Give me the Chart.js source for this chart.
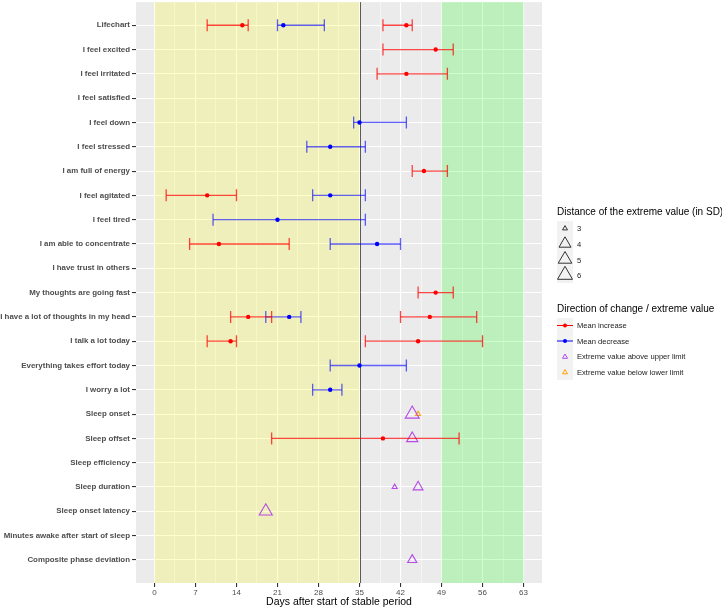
<!DOCTYPE html>
<html>
<head>
<meta charset="utf-8">
<script src="https://cdn.jsdelivr.net/npm/chart.js@4.4.1/dist/chart.umd.min.js"></script>
<style>
  body { margin: 0; background: #fff; font-family: "Liberation Sans", Arial, sans-serif; }
  #wrap { position: relative; width: 722px; height: 608px; overflow: hidden; }
  #grafico { position: absolute; left: 0; top: -7px; }
  .leg-titulo { position: absolute; left: 557px; font-size: 10px; color: #000; white-space: nowrap; transform: translateY(-50%); }
  .leg-item { position: absolute; left: 577px; font-size: 7.6px; color: #1a1a1a; white-space: nowrap; transform: translateY(-50%); }
  .leg-key { position: absolute; left: 557px; }
</style>
</head>
<body>
<div id="wrap">
  <canvas id="grafico" width="722" height="615"></canvas>

  <div class="leg-titulo" style="top:211px">Distance of the extreme value (in SD)</div>
  <svg class="leg-key" style="top:221px" width="16" height="62">
    <rect x="0" y="0" width="16" height="62" fill="#f2f2f2"/>
    <polygon points="8,4.6 10.5,8.9 5.5,8.9" fill="none" stroke="#333" stroke-width="1"/>
    <polygon points="8,15.8 14,26.2 2,26.2" fill="none" stroke="#333" stroke-width="1"/>
    <polygon points="8,30.5 14.8,42.2 1.2,42.2" fill="none" stroke="#333" stroke-width="1"/>
    <polygon points="8,45.3 15.5,58.3 0.5,58.3" fill="none" stroke="#333" stroke-width="1"/>
  </svg>
  <div class="leg-item" style="top:228px">3</div>
  <div class="leg-item" style="top:244px">4</div>
  <div class="leg-item" style="top:259.5px">5</div>
  <div class="leg-item" style="top:275px">6</div>

  <div class="leg-titulo" style="top:308px">Direction of change / extreme value</div>
  <svg class="leg-key" style="top:317.5px" width="16" height="62">
    <rect x="0" y="0" width="16" height="62" fill="#f2f2f2"/>
    <line x1="0" y1="7.5" x2="16" y2="7.5" stroke="#ff0000" stroke-width="1"/>
    <circle cx="8" cy="7.5" r="2" fill="#ff0000"/>
    <line x1="0" y1="23" x2="16" y2="23" stroke="#0000ff" stroke-width="1"/>
    <circle cx="8" cy="23" r="2" fill="#0000ff"/>
    <polygon points="8,36 10.5,40.3 5.5,40.3" fill="none" stroke="#b54be6" stroke-width="1"/>
    <polygon points="8,51.5 10.5,55.8 5.5,55.8" fill="none" stroke="#ffa500" stroke-width="1"/>
  </svg>
  <div class="leg-item" style="top:325px">Mean increase</div>
  <div class="leg-item" style="top:340.5px">Mean decrease</div>
  <div class="leg-item" style="top:356px">Extreme value above upper limit</div>
  <div class="leg-item" style="top:371.5px">Extreme value below lower limit</div>
</div>

<script>
// itens (eixo y), de cima para baixo
const categorias = ['Lifechart', 'I feel excited', 'I feel irritated', 'I feel satisfied', 'I feel down',
  'I feel stressed', 'I am full of energy', 'I feel agitated', 'I feel tired', 'I am able to concentrate',
  'I have trust in others', 'My thoughts are going fast', 'I have a lot of thoughts in my head',
  'I talk a lot today', 'Everything takes effort today', 'I worry a lot', 'Sleep onset', 'Sleep offset',
  'Sleep efficiency', 'Sleep duration', 'Sleep onset latency', 'Minutes awake after start of sleep',
  'Composite phase deviation'];

// intervalos de mudança da média (dias)
const intItem = ['Lifechart', 'Lifechart', 'Lifechart', 'I feel excited', 'I feel irritated', 'I feel down',
  'I feel stressed', 'I am full of energy', 'I feel agitated', 'I feel agitated', 'I feel tired',
  'I am able to concentrate', 'I am able to concentrate', 'My thoughts are going fast',
  'I have a lot of thoughts in my head', 'I have a lot of thoughts in my head', 'I have a lot of thoughts in my head',
  'I talk a lot today', 'I talk a lot today', 'Everything takes effort today', 'I worry a lot', 'Sleep offset'];
const intInicio = [9, 21, 39, 39, 38, 34, 26, 44, 2, 27, 10, 6, 30, 45, 13, 19, 42, 9, 36, 30, 27, 20];
const intMedia  = [15, 22, 43, 48, 43, 35, 30, 46, 9, 30, 21, 11, 38, 48, 16, 23, 47, 13, 45, 35, 30, 39];
const intFim    = [16, 29, 44, 51, 50, 43, 36, 50, 14, 36, 36, 23, 42, 51, 20, 25, 55, 14, 56, 43, 32, 52];
const intDirecao = ['up', 'down', 'up', 'up', 'up', 'down', 'down', 'up', 'up', 'down', 'down', 'up', 'down',
  'up', 'up', 'down', 'up', 'up', 'up', 'down', 'down', 'up'];

// valores extremos
const extItem = ['Sleep onset', 'Sleep onset', 'Sleep offset', 'Sleep duration', 'Sleep duration',
  'Sleep onset latency', 'Composite phase deviation'];
const extDia  = [44, 45, 44, 41, 45, 19, 44];
const extSD   = [5.3, 3, 3.9, 3, 3.7, 4.7, 3.6];
const extTipo = ['above', 'below', 'above', 'above', 'above', 'above', 'above'];

// faixas de fundo e linha de referência
const faixaInicio = [0, 49];
const faixaFim = [35, 63];
const linhaRef = 35;

const xMajor = [0, 7, 14, 21, 28, 35, 42, 49, 56, 63];

// ---- estilos ----
const corFaixa = ['rgba(255,255,0,0.2)', 'rgba(0,255,0,0.2)'];
const corDir = { up: 'rgba(255,0,0,0.72)', down: 'rgba(0,0,255,0.62)' };
const corMedia = { up: '#ff0000', down: '#0000ff' };
const corExt = { above: '#b54be6', below: '#ffa500' };

// raio do triângulo para a distância em SD
const sdBreaks = [3, 4, 5, 6];
const sdRaio = [2.9, 6.9, 7.8, 8.7];
function raioSD(sd) {
  for (let i = 1; i < sdBreaks.length; i++) {
    if (sd <= sdBreaks[i]) {
      const t = (sd - sdBreaks[i - 1]) / (sdBreaks[i] - sdBreaks[i - 1]);
      return sdRaio[i - 1] + t * (sdRaio[i] - sdRaio[i - 1]);
    }
  }
  return sdRaio[sdRaio.length - 1];
}

// ticks x: maiores + menores no meio
const xTicks = [];
xMajor.forEach((v, i) => {
  xTicks.push(v);
  if (i < xMajor.length - 1) xTicks.push((v + xMajor[i + 1]) / 2);
});

const datasets = [];

intItem.forEach((item, i) => {
  const y = categorias.indexOf(item);
  const cor = corDir[intDirecao[i]];
  datasets.push({
    type: 'line',
    data: [{ x: intInicio[i], y }, { x: intFim[i], y }],
    borderColor: cor,
    borderWidth: 1.3,
    pointStyle: 'line',
    rotation: 90,
    pointRadius: 6,
    pointBorderColor: cor,
    pointBorderWidth: 1.3,
    fill: false
  });
});

['up', 'down'].forEach(d => {
  const pts = [];
  intItem.forEach((item, i) => {
    if (intDirecao[i] === d) pts.push({ x: intMedia[i], y: categorias.indexOf(item) });
  });
  datasets.push({
    type: 'scatter',
    data: pts,
    pointRadius: 2.2,
    backgroundColor: corMedia[d],
    borderColor: corMedia[d],
    borderWidth: 0
  });
});

['above', 'below'].forEach(t => {
  const pts = [];
  const raios = [];
  extItem.forEach((item, i) => {
    if (extTipo[i] === t) {
      pts.push({ x: extDia[i], y: categorias.indexOf(item) });
      raios.push(raioSD(extSD[i]));
    }
  });
  datasets.push({
    type: 'scatter',
    data: pts,
    pointStyle: 'triangle',
    pointRadius: raios,
    backgroundColor: 'rgba(0,0,0,0)',
    borderColor: corExt[t],
    borderWidth: 1.1
  });
});

const fundoPainel = {
  id: 'fundoPainel',
  beforeDraw(chart) {
    const { ctx, chartArea: a } = chart;
    ctx.save();
    ctx.fillStyle = '#ebebeb';
    ctx.fillRect(a.left, a.top, a.width, a.height);
    ctx.restore();
  },
  beforeDatasetsDraw(chart) {
    const { ctx, chartArea: a, scales: { x } } = chart;
    ctx.save();
    faixaInicio.forEach((ini, i) => {
      const x0 = x.getPixelForValue(ini);
      const x1 = x.getPixelForValue(faixaFim[i]);
      ctx.fillStyle = corFaixa[i];
      ctx.fillRect(x0, a.top, x1 - x0, a.height);
    });
    const xr = Math.round(x.getPixelForValue(linhaRef)) + 0.5;
    ctx.strokeStyle = '#5a5a5a';
    ctx.lineWidth = 1;
    ctx.beginPath();
    ctx.moveTo(xr, a.top);
    ctx.lineTo(xr, a.bottom);
    ctx.stroke();
    ctx.restore();
  }
};

new Chart(document.getElementById('grafico'), {
  type: 'scatter',
  data: { datasets },
  options: {
    responsive: false,
    animation: false,
    devicePixelRatio: 1,
    layout: { padding: { top: 2, right: 180, left: 0, bottom: 0 } },
    plugins: { legend: { display: false }, tooltip: { enabled: false } },
    scales: {
      x: {
        type: 'linear',
        min: -3.15,
        max: 66.15,
        afterBuildTicks: s => { s.ticks = xTicks.map(v => ({ value: v })); },
        afterFit: s => { s.height = 25; },
        ticks: {
          autoSkip: false,
          maxRotation: 0,
          padding: 1,
          color: '#4d4d4d',
          font: { size: 8, family: 'Liberation Sans' },
          callback: v => xMajor.includes(v) ? String(v) : ''
        },
        grid: {
          color: '#ffffff',
          lineWidth: c => xMajor.includes(c.tick && c.tick.value) ? 1.1 : 0.5,
          tickColor: c => xMajor.includes(c.tick && c.tick.value) ? '#333333' : 'rgba(0,0,0,0)',
          tickLength: 4
        },
        border: { display: false },
        title: {
          display: true,
          text: 'Days after start of stable period',
          color: '#000',
          padding: 0,
          font: { size: 10.5, family: 'Liberation Sans' }
        }
      },
      y: {
        type: 'linear',
        reverse: true,
        min: -0.95,
        max: 22.95,
        afterBuildTicks: s => { s.ticks = categorias.map((c, i) => ({ value: i })); },
        afterFit: s => { s.width = 136; },
        ticks: {
          autoSkip: false,
          padding: 2,
          color: '#4d4d4d',
          font: { size: 7.9, weight: 'bold', family: 'Liberation Sans' },
          callback: v => categorias[v]
        },
        grid: {
          color: '#ffffff',
          lineWidth: 1.1,
          tickColor: '#333333',
          tickLength: 4
        },
        border: { display: false }
      }
    }
  },
  plugins: [fundoPainel]
});
</script>
</body>
</html>
